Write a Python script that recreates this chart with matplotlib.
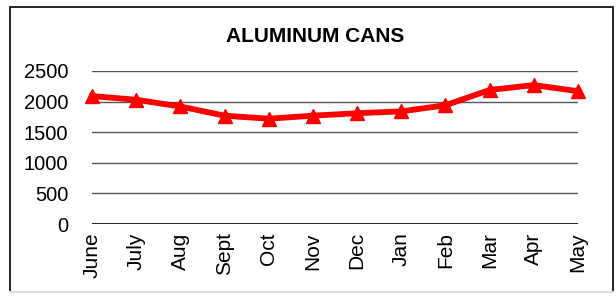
import matplotlib.pyplot as plt
from matplotlib.patches import Rectangle
from matplotlib.lines import Line2D

months = ['June', 'July', 'Aug', 'Sept', 'Oct', 'Nov', 'Dec', 'Jan', 'Feb', 'Mar', 'Apr', 'May']
cans = [2090, 2030, 1920, 1770, 1720, 1770, 1810, 1840, 1940, 2190, 2270, 2170]
yticks = [0, 500, 1000, 1500, 2000, 2500]

plt.rcParams['font.family'] = ['Liberation Sans', 'DejaVu Sans']

W, H = 616, 297
fig = plt.figure(figsize=(W / 100, H / 100), dpi=100)

# chart frame
fig.patches.append(Rectangle((10 / W, 1 - 292 / H), 603 / W, 285 / H,
                             transform=fig.transFigure, fill=False,
                             edgecolor='black', linewidth=1.2))
fig.lines.append(Line2D([10 / W, 613 / W], [1 - 292 / H, 1 - 292 / H],
                        transform=fig.transFigure, color='#dddddd', linewidth=1.5))

ax = fig.add_axes([92 / W, 1 - 224 / H, 486 / W, 153 / H])
x = range(len(months))
ax.plot(x, cans, color='#ff0000', linewidth=4.2, marker='^', markersize=10,
        clip_on=False, zorder=3)

ax.set_xlim(0, len(months) - 1)
ax.set_ylim(0, 2500)
ax.set_yticks(yticks)
ax.set_xticks(list(x))
ax.set_xticklabels(months, rotation=90, fontsize=15)
ax.tick_params(axis='y', labelsize=14.5, length=0, pad=17)
ax.tick_params(axis='x', length=0, pad=6)
for v in yticks[1:]:
    ax.axhline(v, color='#555555', linewidth=1, zorder=1)
ax.axhline(0, color='black', linewidth=1.2, zorder=2)
for s in ax.spines.values():
    s.set_visible(False)

fig.text(315 / W, 1 - 36 / H, 'ALUMINUM CANS', ha='center', va='center',
         fontsize=15, fontweight='bold')

fig.savefig('out.png', dpi=100)
